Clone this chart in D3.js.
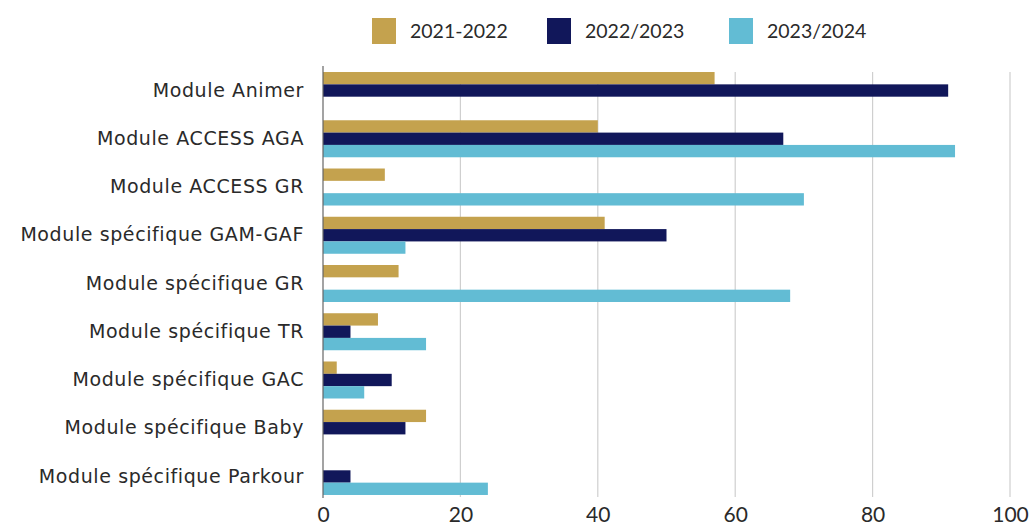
<!DOCTYPE html>
<html><head><meta charset="utf-8">
<script src="https://cdn.jsdelivr.net/npm/d3@7"></script>
<style>body{margin:0;background:#fff;} svg{display:block;} text{font-family:"Lato","Open Sans",sans-serif;}</style>
</head><body><svg id="c" width="1030" height="528"></svg>
<script>
const categories = ["Module Animer","Module ACCESS AGA","Module ACCESS GR","Module spécifique GAM-GAF","Module spécifique GR","Module spécifique TR","Module spécifique GAC","Module spécifique Baby","Module spécifique Parkour"];
const seriesNames = ["2021-2022","2022/2023","2023/2024"];
const values2021 = [57,40,9,41,11,8,2,15,0];
const values2022 = [91,67,0,50,0,4,10,12,4];
const values2023 = [0,92,70,12,68,15,6,0,24];
const xTicks = [0,20,40,60,80,100];
const colors = ["#C4A24E","#11175A","#62BCD4"];

const svg = d3.select("#c");
const x = d3.scaleLinear().domain([0,100]).range([323,1010]);
const y = d3.scaleBand().domain(categories).range([66.4,500.6]).paddingInner(0.233).paddingOuter(0.1165);
const ySub = d3.scaleBand().domain(seriesNames).range([0,y.bandwidth()]);
const series = [values2021, values2022, values2023];

// grid
svg.append("g").selectAll("line").data(xTicks.slice(1)).join("line")
  .attr("x1",d=>x(d)).attr("x2",d=>x(d)).attr("y1",72).attr("y2",497)
  .attr("stroke","#cfcfcf").attr("stroke-width",1.2);

// bars
seriesNames.forEach((s,i)=>{
  svg.append("g").selectAll("rect").data(categories).join("rect")
    .attr("x",x(0)).attr("y",(c)=>y(c)+ySub(s))
    .attr("width",(c,j)=>x(series[i][j])-x(0))
    .attr("height",ySub.bandwidth())
    .attr("fill",colors[i]);
});

// zero axis line
svg.append("line").attr("x1",x(0)).attr("x2",x(0)).attr("y1",66).attr("y2",498).attr("stroke","#666").attr("stroke-width",1.2);

// y labels
const yAxis = d3.axisLeft(y).tickSize(0).tickPadding(19);
const gy = svg.append("g").attr("transform",`translate(${x(0)},0)`).call(yAxis);
gy.select(".domain").remove();
gy.selectAll("text").attr("font-size",19).attr("fill","#2a2a2a")
  .style("font-family","'DejaVu Sans',sans-serif").style("letter-spacing","0.6px");

// x labels
const xAxis = d3.axisBottom(x).tickValues(xTicks).tickSize(0).tickPadding(0);
const gx = svg.append("g").attr("transform","translate(0,507)").call(xAxis);
gx.select(".domain").remove();
gx.selectAll("text").attr("font-size",21).attr("fill","#2a2a2a").style("font-family","Lato,'Open Sans',sans-serif");

// legend
const legX = [372,547,729];
const lg = svg.append("g");
seriesNames.forEach((s,i)=>{
  lg.append("rect").attr("x",legX[i]).attr("y",18).attr("width",24).attr("height",26).attr("fill",colors[i]);
  lg.append("text").attr("x",legX[i]+38).attr("y",31).attr("dy","0.35em").attr("font-size",19.5).attr("fill","#2a2a2a").text(s);
});
</script></body></html>
